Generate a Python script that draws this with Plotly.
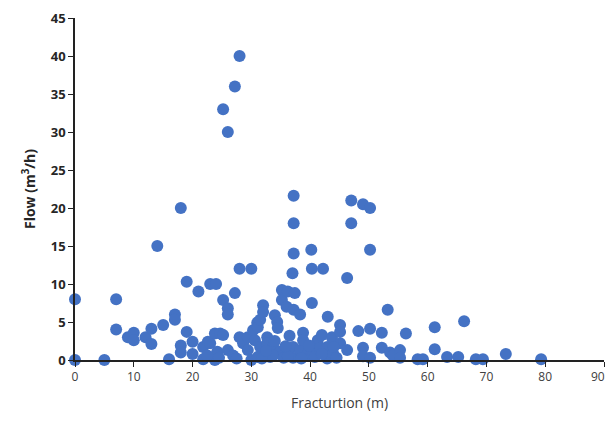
import plotly.graph_objects as go

fracturation_m = [
    0, 0, 5, 7, 7, 9, 10, 10, 12, 13, 13, 14, 15, 16, 17, 17, 18, 18, 18, 19,
    19, 20, 20, 21, 21.8, 21.8, 22.6, 23, 24, 23, 23.8, 24.7, 24.2, 23.8, 25.2, 25.2,
    25.2, 26, 26, 26, 26, 26.9, 27.2, 27.2, 28, 28, 28, 28.6, 29.4, 29.4, 30, 30,
    30.3, 30.6, 31, 31.1, 31.5, 31.5, 31.1, 32, 32, 32.7, 32.7, 33.7, 33.2, 34, 34.4, 34.5,
    34.9, 35.2, 35.2, 36.2, 36, 37.2, 37.2, 37.2, 37, 37.4, 37.2, 38.3, 37.1, 37.1, 38.3, 38.8,
    38.8, 39.5, 40.2, 40.3, 40.3, 40.3, 41.3, 41.7, 42.2, 42, 42.9, 42.9, 43, 43.7, 43.9, 45.1,
    45.1, 45.1, 46.3, 46.3, 47, 47, 48.2, 49, 49, 49, 50.2, 50.2, 50.2, 50.2, 52.2, 52.2,
    53.2, 53.6, 54.1, 55.3, 55.3, 56.3, 58.3, 59.2, 61.2, 61.2, 63.3, 65.2, 66.2, 68.2, 69.4, 73.3,
    79.3, 24.5, 27.5, 31.8, 33.7, 35.5, 36.2, 38.5, 40.8, 42, 44.5, 32.5, 35.8, 34, 36.5, 39.8,
    44, 22.5,
]
flow_m3h = [
    8, 0, 0, 8, 4, 3, 3.6, 2.6, 3, 4.1, 2.1, 15, 4.6, 0.1, 6, 5.3, 20, 1.9, 1, 10.3,
    3.7, 2.4, 0.8, 9, 1.7, 0.1, 2.4, 10, 10, 2.2, 3.5, 3.5, 1.1, 0, 33, 7.9,
    3.3, 30, 6.8, 6, 1.3, 0.6, 36, 8.8, 40, 12, 3, 2.2, 1.3, 3, 12, 0,
    3.9, 2.6, 4.9, 4.3, 5.3, 1.7, 0.4, 7.2, 6.3, 3, 2.2, 1.7, 0.4, 5.9, 5, 4.2,
    1.1, 9.2, 7.9, 9, 7, 21.6, 18, 14, 11.4, 8.8, 6.6, 6, 1.7, 0.3, 1.3, 3.6,
    2.6, 0.7, 14.5, 12, 7.5, 1.3, 2.6, 1.6, 12, 3.3, 1.7, 0.2, 5.7, 3, 0.9, 4.6,
    3.7, 2.2, 10.8, 1.3, 21, 18, 3.8, 20.5, 1.6, 0.5, 20, 14.5, 4.1, 0.3, 3.6, 1.6,
    6.6, 1, 0.6, 1.3, 0.3, 3.5, 0.1, 0.1, 4.3, 1.4, 0.4, 0.4, 5.1, 0.1, 0.1, 0.8,
    0.1, 0.3, 0.2, 0.2, 0.6, 0.3, 0.5, 0.2, 0.4, 0.8, 0.3, 1.2, 1.8, 2.5, 3.2, 1.9,
    1.7, 0.6,
]

x_ticks = [0, 10, 20, 30, 40, 50, 60, 70, 80, 90]
x_tick_labels = ["0", "10", "20", "30", "40", "50", "60", "70", "80", "90"]
y_ticks = [0, 5, 10, 15, 20, 25, 30, 35, 40, 45]

# the last label sits at the page edge; pad it so it stays inside the figure
x_tick_text = x_tick_labels[:-1] + [x_tick_labels[-1] + "\u00a0\u00a0\u00a0\u00a0"]

fig = go.Figure(go.Scatter(
    x=fracturation_m, y=flow_m3h, mode="markers",
    marker=dict(color="#4472C4", size=12, line=dict(width=0)),
    cliponaxis=False, showlegend=False,
))

# page body has an 8px default margin; size the figure so it fits the 614x431 window
fig.update_layout(
    width=598, height=415,
    margin=dict(l=67, r=2, t=10, b=63),
    paper_bgcolor="white", plot_bgcolor="white",
    font=dict(family="Open Sans, Liberation Sans, sans-serif", color="#404040"),
)
fig.update_xaxes(
    range=[0, 90], tickvals=x_ticks, ticktext=x_tick_text,
    ticks="outside", ticklen=5, tickwidth=1.2,
    tickcolor="#222", showline=True, linecolor="#222", linewidth=1.5,
    showgrid=False, zeroline=False, automargin=False, ticklabeloverflow="allow",
    tickfont=dict(size=12, color="#404040"),
    title=dict(text="Fracturtion (m)", font=dict(size=14, color="#404040"), standoff=14),
)
fig.update_yaxes(
    range=[0, 45], tickvals=y_ticks, ticks="outside", ticklen=5, tickwidth=1.2,
    tickcolor="#222", showline=True, linecolor="#222", linewidth=1.5,
    showgrid=False, zeroline=False, automargin=False,
    tickfont=dict(size=13, color="#262626", weight="bold"),
    title=dict(text="<b>Flow (m<sup>3</sup>/h)</b>", font=dict(size=14, color="#262626"), standoff=12),
)

fig.write_html("out.html")
